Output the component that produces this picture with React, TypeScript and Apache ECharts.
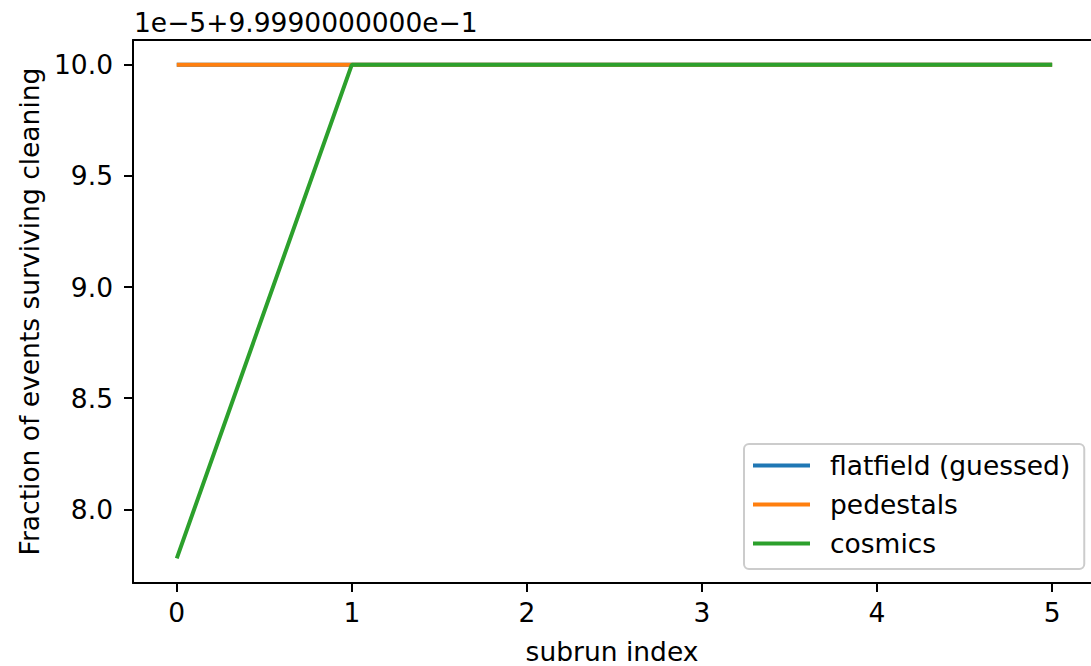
import React, { useEffect, useRef } from "react";
import * as echarts from "echarts";

// subrun indices
const subruns = [0, 1, 2, 3, 4, 5];
// values shown in offset units: fraction = 0.9999 + 1e-5 * value
const flatfield = [10.0, 10.0, 10.0, 10.0, 10.0, 10.0];
const pedestals = [10.0, 10.0, 10.0, 10.0, 10.0, 10.0];
const cosmics = [7.78, 10.0, 10.0, 10.0, 10.0, 10.0];
const yTicks = [8.0, 8.5, 9.0, 9.5, 10.0];
const xTicks = [0, 1, 2, 3, 4, 5];
const offsetText = "1e\u22125+9.9990000000e\u22121";

const FONT = "DejaVu Sans";
const FS = 26.5;

export default function App() {
  const ref = useRef<HTMLDivElement>(null);
  useEffect(() => {
    const chart = echarts.init(ref.current!, null, { renderer: "svg" });
    const pair = (ys: number[]) => subruns.map((x, i) => [x, ys[i]]);
    const lineSeries = (name: string, data: number[], color: string) => ({
      name,
      type: "line",
      data: pair(data),
      showSymbol: false,
      symbol: "none",
      lineStyle: { color, width: 4, cap: "butt" },
      itemStyle: { color },
      xAxisIndex: 0,
      yAxisIndex: 0,
    });
    chart.setOption({
      animation: false,
      textStyle: { fontFamily: FONT },
      grid: { left: 133, top: 40, right: 0, bottom: 83, containLabel: false, outerBoundsMode: "none" },
      xAxis: [
        {
          type: "value",
          min: -0.25,
          max: 5.222,
          name: "subrun index",
          nameLocation: "middle",
          nameGap: 55,
          nameTextStyle: { fontFamily: FONT, fontSize: FS, color: "#000" },
          axisLine: { show: true, onZero: false, lineStyle: { color: "#000", width: 2 } },
          axisTick: { show: true, inside: false, length: 9, lineStyle: { color: "#000", width: 2 }, customValues: xTicks },
          axisLabel: { fontFamily: FONT, fontSize: FS, color: "#000", margin: 16, customValues: xTicks },
          splitLine: { show: false },
        },
        {
          type: "value",
          position: "top",
          min: -0.25,
          max: 5.222,
          axisLine: { show: true, onZero: false, lineStyle: { color: "#000", width: 2 } },
          axisTick: { show: false },
          axisLabel: { show: false },
          splitLine: { show: false },
        },
      ],
      yAxis: {
        type: "value",
        min: 7.669,
        max: 10.111,
        name: "Fraction of events surviving cleaning",
        nameLocation: "middle",
        nameGap: 89,
        nameRotate: 90,
        nameTextStyle: { fontFamily: FONT, fontSize: FS, color: "#000" },
        axisLine: { show: true, onZero: false, lineStyle: { color: "#000", width: 2 } },
        axisTick: { show: true, inside: false, length: 9, lineStyle: { color: "#000", width: 2 }, customValues: yTicks },
        axisLabel: {
          fontFamily: FONT,
          fontSize: FS,
          color: "#000",
          margin: 20,
          customValues: yTicks,
          formatter: (v: number) => v.toFixed(1),
        },
        splitLine: { show: false },
      },
      legend: {
        orient: "vertical",
        left: 744,
        top: 444,
        padding: [8, 14, 12, 9],
        itemGap: 12,
        itemWidth: 57,
        itemHeight: 4,
        icon: "rect",
        backgroundColor: "#fff",
        borderColor: "#cccccc",
        borderWidth: 2,
        borderRadius: 5,
        textStyle: { fontFamily: FONT, fontSize: FS, color: "#000", lineHeight: 26.5, padding: [0, 0, 0, 15] },
        data: ["flatfield (guessed)", "pedestals", "cosmics"],
      },
      graphic: [
        {
          type: "text",
          left: 134,
          top: 9,
          style: { text: offsetText, fontFamily: FONT, fontSize: FS, fill: "#000" },
        },
      ],
      series: [
        lineSeries("flatfield (guessed)", flatfield, "#1f77b4"),
        lineSeries("pedestals", pedestals, "#ff7f0e"),
        lineSeries("cosmics", cosmics, "#2ca02c"),
      ],
    });
    return () => chart.dispose();
  }, []);
  return (
    <div
      ref={ref}
      style={{ position: "fixed", left: 0, top: 0, width: 1091, height: 666, background: "#fff" }}
    />
  );
}
